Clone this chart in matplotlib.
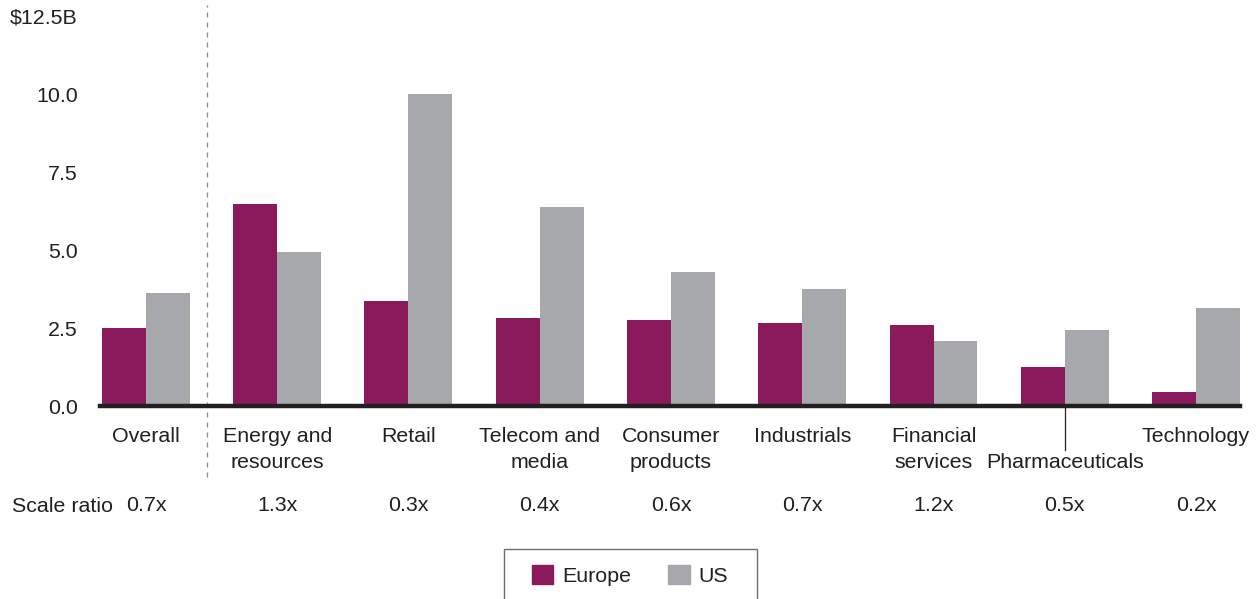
import matplotlib
matplotlib.use('Agg')
import matplotlib.pyplot as plt
from matplotlib.patches import Patch, Rectangle
import numpy as np

plt.rcParams['font.family'] = ['Liberation Sans', 'DejaVu Sans']

# data
categories = ['Overall', 'Energy and\nresources', 'Retail', 'Telecom and\nmedia',
              'Consumer\nproducts', 'Industrials', 'Financial\nservices',
              'Pharmaceuticals', 'Technology']
europe = [2.5, 6.47, 3.37, 2.82, 2.76, 2.66, 2.6, 1.25, 0.45]
us = [3.62, 4.94, 10.0, 6.38, 4.29, 3.75, 2.08, 2.44, 3.14]
scale_ratio = ['0.7x', '1.3x', '0.3x', '0.4x', '0.6x', '0.7x', '1.2x', '0.5x', '0.2x']
ytick_vals = [0, 2.5, 5.0, 7.5, 10.0, 12.5]
ytick_labels = ['0.0', '2.5', '5.0', '7.5', '10.0', '$12.5B']

c_eu = '#8a1a5b'
c_us = '#a7a8ac'
txt = '#231f20'
fs = 15.4

W, H = 1260, 599
fig = plt.figure(figsize=(W / 100, H / 100), dpi=100)
ax = fig.add_axes([100 / W, 193 / H, 1140 / W, 390 / H])

x = np.arange(len(categories))
bw = 0.335
ax.bar(x - bw / 2, europe, bw, color=c_eu, zorder=2)
ax.bar(x + bw / 2, us, bw, color=c_us, zorder=2)

ax.set_xlim(-0.35, 8.335)
ax.set_ylim(0, 12.5)
for s in ax.spines.values():
    s.set_visible(False)
ax.axhline(0, xmin=0.0, xmax=1.0, color=txt, lw=3.2, zorder=3, clip_on=False)

ax.set_yticks(ytick_vals)
ax.set_yticklabels(ytick_labels, fontsize=fs, color=txt)
ax.tick_params(axis='y', length=0, pad=16)
ax.set_xticks([])

# dashed separator between Overall and the sectors
xsep = (207 - 146) / 131.25
ax.plot([xsep, xsep], [-2.28, 12.85], ls=(0, (4, 4)), color='#8c8c8c', lw=0.9,
        clip_on=False, zorder=1)

# category labels
for i, lab in enumerate(categories):
    if lab == 'Pharmaceuticals':
        ax.plot([i, i], [0, -1.42], color=txt, lw=0.9, clip_on=False)
        ax.text(i, -1.5, lab, ha='center', va='top', fontsize=fs, color=txt)
    else:
        ax.text(i, -0.68, lab, ha='center', va='top', fontsize=fs, color=txt,
                linespacing=1.45)

# scale ratio row
ax.text(12 / W, 1 - 507 / H, 'Scale ratio', transform=fig.transFigure,
        ha='left', va='center', fontsize=fs, color=txt)
for i, r in enumerate(scale_ratio):
    ax.text(i, -3.2, r, ha='center', va='center', fontsize=fs, color=txt)

# legend with a hand drawn frame running off the bottom edge
fig.patches.append(Rectangle((504 / W, -0.05), 253 / W, 0.05 + 50 / H,
                             transform=fig.transFigure, fill=False,
                             edgecolor='#6d6e71', lw=1.0))
handles = [Patch(color=c_eu, label='Europe'), Patch(color=c_us, label='US')]
leg = fig.legend(handles=handles, loc='upper left', ncol=2,
                 bbox_to_anchor=(532 / W, 1 - 565 / H), fontsize=fs,
                 frameon=False, handlelength=1.0, handleheight=1.0,
                 handletextpad=0.4, columnspacing=1.75, borderpad=0,
                 borderaxespad=0)
for t in leg.get_texts():
    t.set_color(txt)

fig.savefig('out.png', dpi=100)
